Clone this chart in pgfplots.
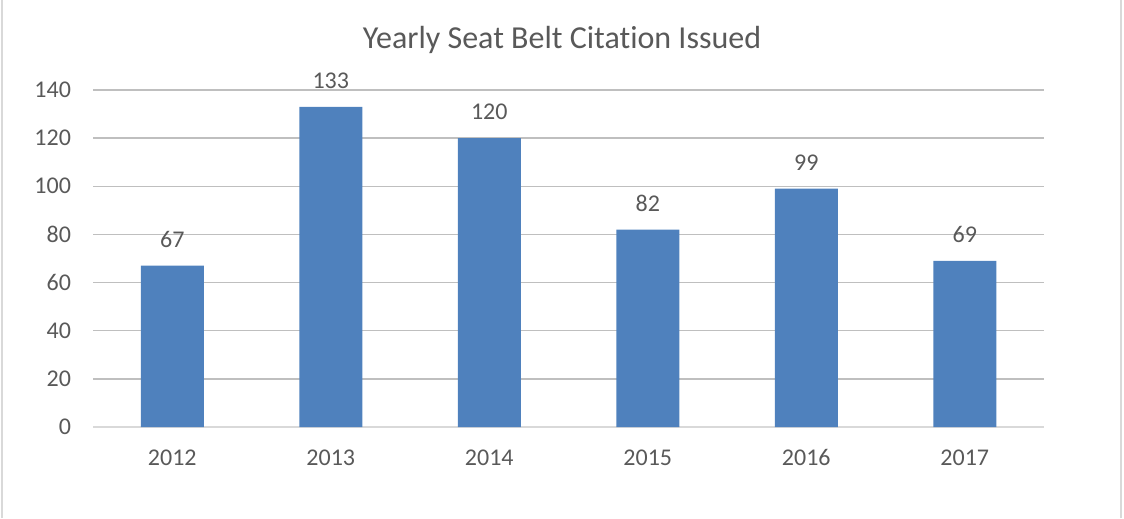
\documentclass[border=0pt]{standalone}
\usepackage{pgfplots}
\pgfplotsset{compat=1.18}
\usepackage{fontspec}
\setmainfont{Carlito}[Ligatures={NoCommon}]
\definecolor{barblue}{HTML}{4F81BD}
\definecolor{txt}{HTML}{595959}
\definecolor{grid}{HTML}{D9D9D9}
\begin{document}
\begin{tikzpicture}
\path[use as bounding box] (0pt,0pt) rectangle (843pt,388.5pt);
\draw[grid,line width=1.2pt] (1.5pt,0pt) -- (1.5pt,388.5pt);
\draw[grid,line width=1.2pt] (840.75pt,0pt) -- (840.75pt,388.5pt);
\node[txt,font=\fontsize{24}{28}\selectfont] at (421.5pt,358.5pt) {Yearly Seat Belt Citation Issued};
\begin{axis}[
  at={(69.75pt,68.25pt)}, anchor=south west,
  scale only axis, width=713.25pt, height=252.75pt,
  ybar, bar width=47.25pt,
  xmin=-0.5, xmax=5.5, ymin=0, ymax=140,
  xtick={0,1,2,3,4,5},
  xticklabels={2012,2013,2014,2015,2016,2017},
  ytick={0,20,40,60,80,100,120,140},
  axis line style={draw=none},
  axis x line*=bottom,
  x axis line style={draw=grid, line width=1pt},
  xmajorgrids=false, ymajorgrids=true, grid style={grid, line width=1pt},
  major tick style={draw=none}, major tick length=0pt,
  tick label style={txt,font=\fontsize{18}{20}\selectfont},
  /pgf/number format/assume math mode=true,
  xticklabel style={anchor=base, yshift=-29pt},
  yticklabel style={xshift=-13pt},
  nodes near coords,
  every node near coord/.append style={txt,font=\fontsize{18}{20}\selectfont, yshift=10pt},
  clip=false,
]
\addplot[fill=barblue, draw=none] coordinates {(0,67) (1,133) (2,120) (3,82) (4,99) (5,69)};
\end{axis}
\end{tikzpicture}
\end{document}
